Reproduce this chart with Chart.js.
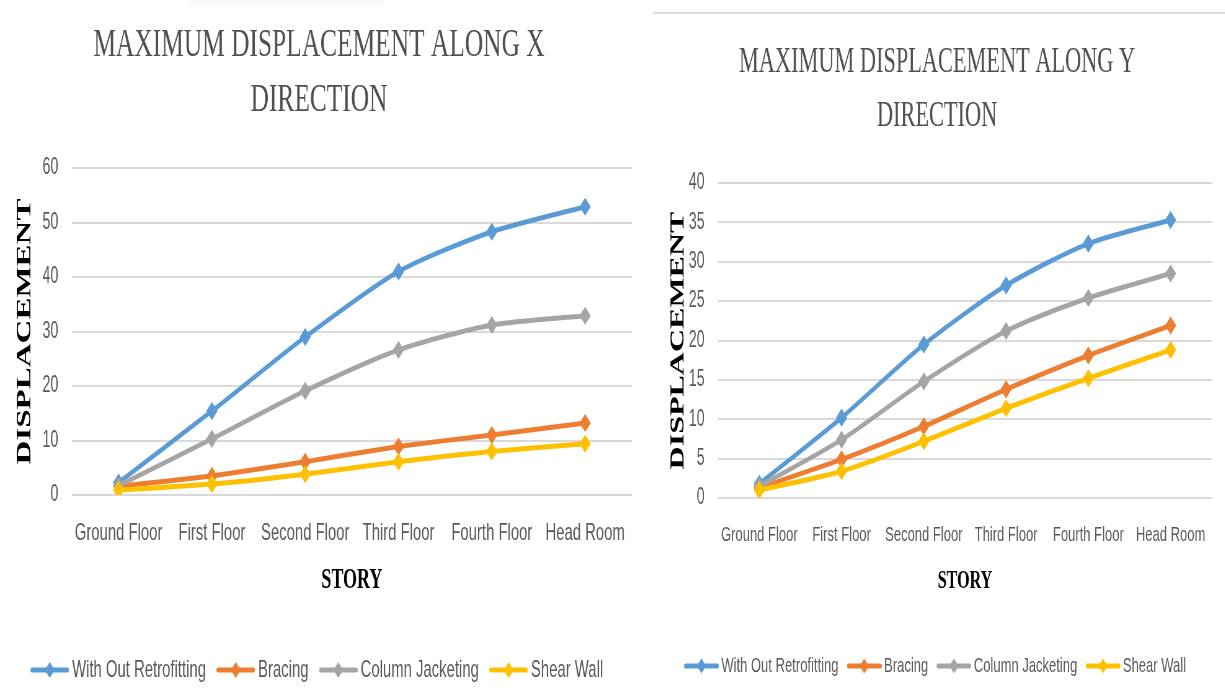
<!DOCTYPE html>
<html>
<head>
<meta charset="utf-8">
<script src="https://cdn.jsdelivr.net/npm/chart.js@4.4.1/dist/chart.umd.min.js"></script>
<style>
  html, body { margin: 0; padding: 0; background: #ffffff; }
  body { width: 1225px; height: 698px; overflow: hidden; position: relative; }
  .panel { position: absolute; top: 0; height: 698px; transform: scaleX(0.62); transform-origin: 0 0; }
  .panel canvas { display: block; }
  #topRule { position: absolute; left: 653px; top: 12px; width: 572px; height: 2px; background: #dcdcdc; }
  #topTab { position: absolute; left: 190px; top: 0; width: 194px; height: 6px; background: #f8f9fb; }
</style>
</head>
<body>
<div id="topTab"></div>
<div id="topRule"></div>
<div class="panel" style="left:0; width:1048px;"><canvas id="chartX"></canvas></div>
<div class="panel" style="left:650px; width:927px;"><canvas id="chartY"></canvas></div>
<script>
// Storeys of the building (category axis)
const stories = ['Ground Floor', 'First Floor', 'Second Floor', 'Third Floor', 'Fourth Floor', 'Head Room'];

// Retrofitting schemes (series names)
const schemes = ['With Out Retrofitting', 'Bracing', 'Column Jacketing', 'Shear Wall'];

// Maximum displacement along X direction
const xWithOut = [2.3, 15.4, 29.0, 41.0, 48.3, 52.9];
const xBracing = [1.6, 3.5, 6.1, 8.9, 11.0, 13.2];
const xJacketing = [1.7, 10.3, 19.1, 26.6, 31.2, 32.9];
const xShearWall = [0.9, 2.0, 3.8, 6.1, 8.0, 9.4];

// Maximum displacement along Y direction
const yWithOut = [1.8, 10.2, 19.5, 27.0, 32.3, 35.3];
const yBracing = [1.3, 4.9, 9.1, 13.8, 18.1, 21.9];
const yJacketing = [1.5, 7.4, 14.8, 21.2, 25.4, 28.5];
const yShearWall = [1.0, 3.4, 7.2, 11.4, 15.2, 18.8];

// Value-axis tick labels
const xDirTicks = [0, 10, 20, 30, 40, 50, 60];
const yDirTicks = [0, 5, 10, 15, 20, 25, 30, 35, 40];

const palette = ['#5B9BD5', '#ED7D31', '#A5A5A5', '#FFC000'];
const textGrey = '#595959';
const gridGrey = '#D9D9D9';

// Legend swatch: a short line with a diamond marker in its middle
function makeSwatch(color, w, h, r, lw) {
  const c = document.createElement('canvas');
  c.width = w; c.height = h;
  const g = c.getContext('2d');
  g.strokeStyle = color;
  g.lineWidth = lw;
  g.lineCap = 'round';
  g.beginPath();
  g.moveTo(lw / 2, h / 2);
  g.lineTo(w - lw / 2, h / 2);
  g.stroke();
  g.fillStyle = color;
  g.beginPath();
  g.moveTo(w / 2 - r, h / 2);
  g.lineTo(w / 2, h / 2 - r);
  g.lineTo(w / 2 + r, h / 2);
  g.lineTo(w / 2, h / 2 + r);
  g.closePath();
  g.fill();
  return c;
}

function buildChart(id, seriesValues, ticks, look) {
  const swatches = palette.map(col => makeSwatch(col, look.swatchW, 20, look.swatchR, 5));
  const datasets = schemes.map((name, i) => ({
    label: name,
    data: seriesValues[i],
    borderColor: palette[i],
    backgroundColor: palette[i],
    borderWidth: 5,
    tension: 0.25,
    pointStyle: 'rectRot',
    pointRadius: 8,
    pointBorderWidth: 1.5,
    pointBackgroundColor: palette[i],
    pointBorderColor: palette[i]
  }));
  // later series are drawn on top of earlier ones
  datasets.forEach((d, i) => { d.order = schemes.length - i; });

  return new Chart(document.getElementById(id), {
    type: 'line',
    data: { labels: stories, datasets },
    options: {
      responsive: true,
      maintainAspectRatio: false,
      animation: false,
      events: [],
      layout: { padding: { left: look.padLeft, right: look.padRight, top: 0, bottom: look.padBottom } },
      plugins: {
        title: {
          display: true,
          text: look.title,
          color: '#505050',
          font: { family: 'Liberation Serif', size: look.titleSize, weight: 'normal', lineHeight: look.titleLine / look.titleSize },
          padding: { top: look.titleTop, bottom: look.titleBottom }
        },
        legend: {
          position: 'bottom',
          labels: {
            color: textGrey,
            font: { family: 'Liberation Sans', size: look.legendSize },
            usePointStyle: true,
            pointStyleWidth: look.swatchBox,
            boxHeight: 16,
            padding: look.legendPad,
            generateLabels(chart) {
              const items = Chart.defaults.plugins.legend.labels.generateLabels(chart);
              items.forEach(it => { it.pointStyle = swatches[it.datasetIndex]; });
              return items.sort((a, b) => a.datasetIndex - b.datasetIndex);
            }
          }
        },
        tooltip: { enabled: false }
      },
      scales: {
        x: {
          offset: true,
          grid: { display: false, drawTicks: false },
          border: { display: false },
          ticks: {
            color: textGrey,
            font: { family: 'Liberation Sans', size: look.catSize },
            padding: look.catPad,
            maxRotation: 0,
            autoSkip: false
          },
          title: {
            display: true,
            text: 'STORY',
            color: '#000000',
            font: { family: 'Liberation Serif', size: look.storySize, weight: 'bold' },
            padding: { top: 0, bottom: look.storyPad }
          },
          afterFit(scale) { scale.height = look.xScaleH; }
        },
        y: {
          min: ticks[0],
          max: ticks[ticks.length - 1],
          grid: { color: gridGrey, lineWidth: 2, drawTicks: false },
          border: { display: false },
          ticks: {
            stepSize: ticks[1] - ticks[0],
            color: textGrey,
            font: { family: 'Liberation Sans', size: 23 },
            padding: look.valPad
          },
          title: {
            display: true,
            text: 'DISPLACEMENT',
            color: '#000000',
            font: { family: 'Liberation Serif', size: look.dispSize, weight: 'bold' },
            padding: { top: look.dispPad, bottom: 0 }
          },
          afterFit(scale) { scale.width = look.yScaleW; }
        }
      }
    }
  });
}

buildChart('chartX', [xWithOut, xBracing, xJacketing, xShearWall], xDirTicks, {
  title: ['MAXIMUM DISPLACEMENT ALONG X', 'DIRECTION'],
  titleSize: 41, titleLine: 55, titleTop: 17.5, titleBottom: 40.5,
  padLeft: 10, padRight: 29, padBottom: 6,
  yScaleW: 106, valPad: 22, dispSize: 33, dispPad: 11,
  xScaleH: 139, catSize: 24, catPad: 23.6, storySize: 29, storyPad: 35.6,
  legendSize: 24, legendPad: 24, swatchW: 62, swatchBox: 48, swatchR: 8
});

buildChart('chartY', [yWithOut, yBracing, yJacketing, yShearWall], yDirTicks, {
  title: ['MAXIMUM DISPLACEMENT ALONG Y', 'DIRECTION'],
  titleSize: 36, titleLine: 54, titleTop: 36, titleBottom: 39,
  padLeft: 20, padRight: 21, padBottom: 11.5,
  yScaleW: 90, valPad: 22, dispSize: 32, dispPad: 7,
  xScaleH: 137.5, catSize: 21, catPad: 24.4, storySize: 26, storyPad: 38.9,
  legendSize: 21, legendPad: 20, swatchW: 56, swatchBox: 43, swatchR: 7.5
});
</script>
</body>
</html>
